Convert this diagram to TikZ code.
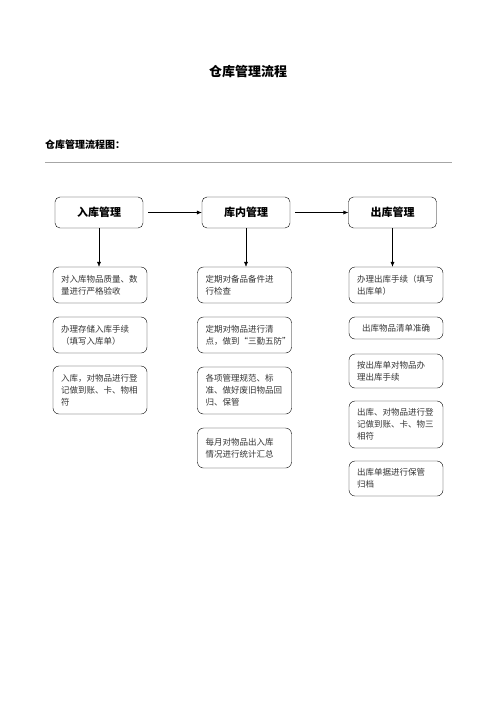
\documentclass[tikz,border=0pt]{standalone}
\usepackage{fontspec}
\newfontfamily\cjk{Noto Sans CJK SC}
\usetikzlibrary{arrows.meta}

\begin{document}
\begin{tikzpicture}[x=1pt,y=-1pt,
    head/.style={draw,rounded corners=5pt,minimum width=88pt,minimum height=31pt,
      font=\cjk\bfseries\fontsize{11}{13}\selectfont},
    item/.style={draw,rounded corners=6pt,text width=78pt,inner xsep=8pt,inner ysep=2pt,
      align=left,text=black!80,font=\cjk\fontsize{8.5}{12}\selectfont},
    link/.style={-{Latex[length=5pt,width=4pt]}}]
  \useasboundingbox (0,0) rectangle (496,702);

  % 标题
  \node (title) at (248,72) {\cjk\bfseries\fontsize{13}{15}\selectfont 仓库管理流程};
  \node[anchor=west,inner sep=0pt] (sub) at (45,145) {\cjk\bfseries\fontsize{10}{12}\selectfont 仓库管理流程图：};
  \draw[black!35] (45,162) -- (452,162);

  % 三个环节
  \node[head] (ru) at (99,212.5) {入库管理};
  \node[head] (kn) at (246,212.5) {库内管理};
  \node[head] (ck) at (392.5,212.5) {出库管理};
  \draw[link,shorten <=5pt] (ru) -- (kn);
  \draw[link,shorten <=5pt] (kn) -- (ck);

  % 入库
  \node[item,minimum height=36pt] (r1) at (100,285) {对入库物品质量、数\\量进行严格验收};
  \node[item,minimum height=36pt] (r2) at (100,335) {办理存储入库手续\\（填写入库单）};
  \node[item,minimum height=48pt] (r3) at (100,390) {入库，对物品进行登\\记做到账、卡、物相\\符};
  \draw[link] (ru) -- (ru |- r1.north);

  % 库内
  \node[item,minimum height=36pt] (k1) at (244.5,285) {定期对备品备件进\\行检查};
  \node[item,minimum height=36pt] (k2) at (244.5,335) {定期对物品进行清\\点，做到“三勤五防”};
  \node[item,minimum height=47pt] (k3) at (244.5,390.5) {各项管理规范、标\\准、做好废旧物品回\\归、保管};
  \node[item,minimum height=40pt] (k4) at (244.5,448) {每月对物品出入库\\情况进行统计汇总};
  \draw[link] (kn) -- (kn |- k1.north);

  % 出库
  \node[item,minimum height=36pt] (c1) at (396,285) {办理出库手续（填写\\出库单）};
  \node[item,minimum height=22pt,align=center] (c2) at (396,328) {出库物品清单准确};
  \node[item,minimum height=34pt] (c3) at (396,371) {按出库单对物品办\\理出库手续};
  \node[item,minimum height=47pt] (c4) at (396,424.5) {出库、对物品进行登\\记做到账、卡、物三\\相符};
  \node[item,minimum height=35pt] (c5) at (396,478.5) {出库单据进行保管\\归档};
  \draw[link] (ck) -- (ck |- c1.north);
\end{tikzpicture}
\end{document}
